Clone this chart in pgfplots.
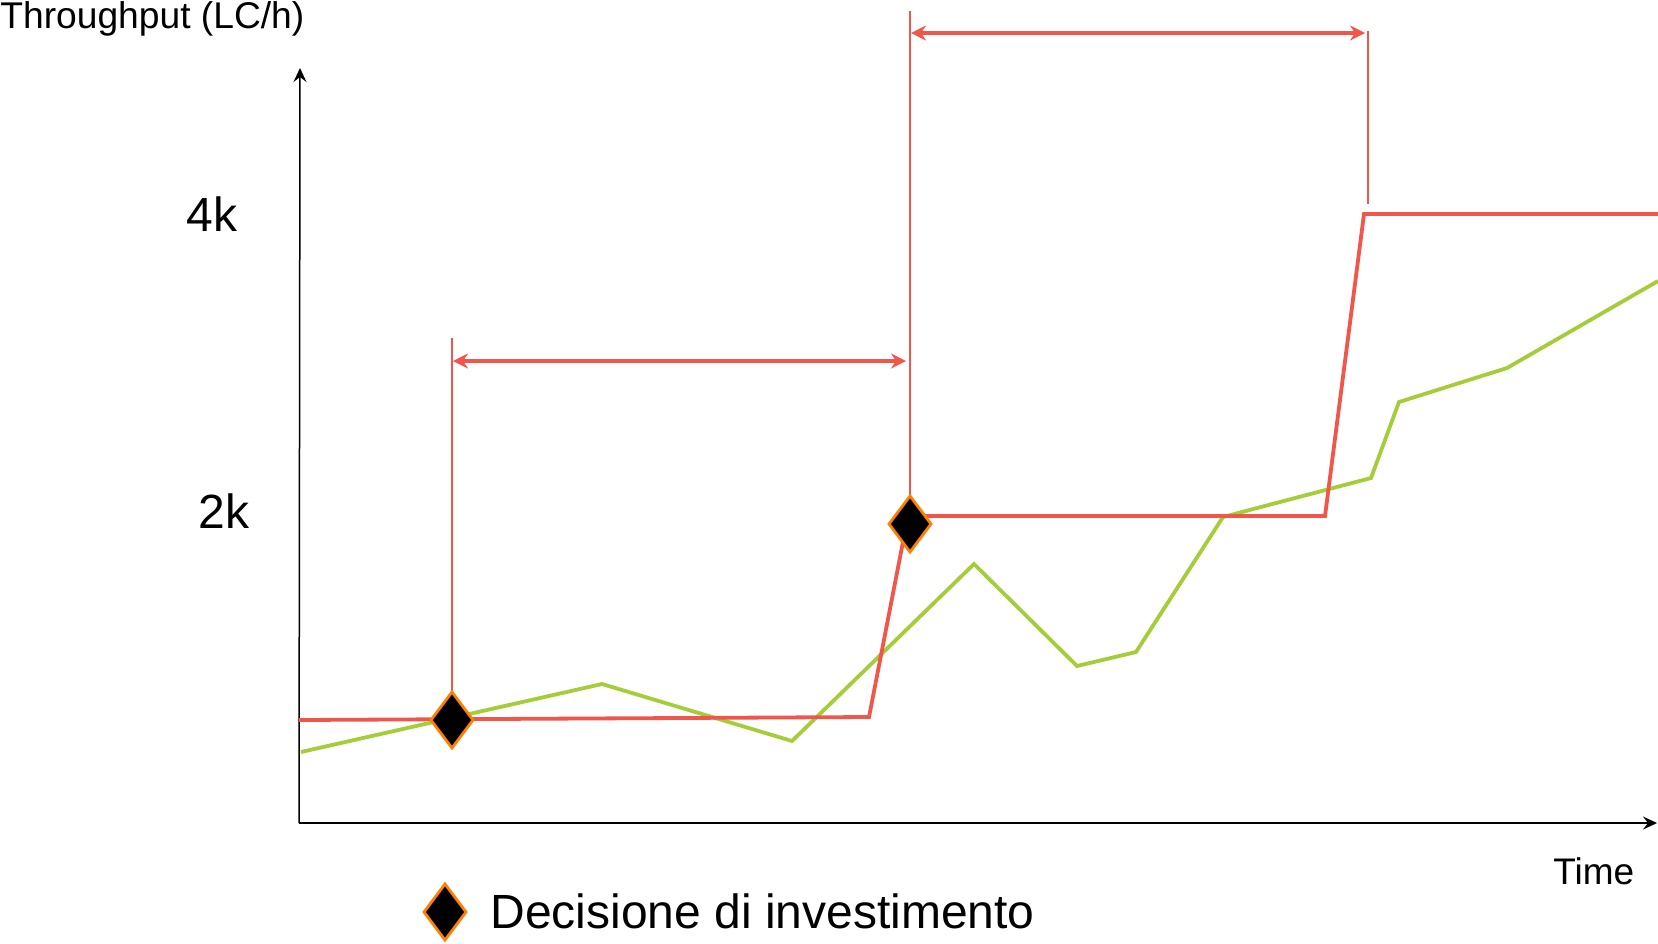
\documentclass[border=0pt]{standalone}
\usepackage{fontspec}
\setmainfont{Liberation Sans}
\usepackage{pgfplots}
\pgfplotsset{compat=1.18}
\usetikzlibrary{arrows.meta}
\definecolor{cred}{HTML}{F0564A}
\definecolor{cgreen}{HTML}{A5CD39}
\definecolor{corange}{HTML}{FF8000}
\begin{document}
\begin{tikzpicture}
\begin{axis}[
  scale only axis, width=829pt, height=471.5pt,
  xmin=0, xmax=1658, ymin=0, ymax=943, y dir=reverse,
  hide axis, clip=false,
]
% axes
\addplot[black, line width=0.75pt, -{Stealth[length=7pt,width=6.5pt,inset=2.5pt]}] coordinates {(299,823) (300,68)};
\addplot[black, line width=0.75pt, -{Stealth[length=7pt,width=6.5pt,inset=2.5pt]}] coordinates {(299,823) (1657,823)};
% demand (green)
\addplot[cgreen, line width=1.9pt] coordinates {
  (301,752) (602,684) (792,741) (974,564) (1077,666) (1136,652)
  (1223,517) (1371,478) (1399,402) (1507,368) (1658,281)};
% capacity (red)
\addplot[cred, line width=1.9pt] coordinates {
  (299,720) (869,717) (908,516) (1325,516) (1364,214) (1658,214)};
% vertical markers
\addplot[cred, line width=1.4pt] coordinates {(452,338) (452,691)};
\addplot[cred, line width=1.4pt] coordinates {(910,11) (910,495)};
\addplot[cred, line width=1.4pt] coordinates {(1368,31) (1368,204)};
% lead-time arrows
\addplot[cred, line width=1.6pt, {Stealth[length=7.5pt,width=7.5pt,inset=2.5pt]}-{Stealth[length=7.5pt,width=7.5pt,inset=2.5pt]}] coordinates {(453,361) (906,361)};
\addplot[cred, line width=1.6pt, {Stealth[length=7.5pt,width=7.5pt,inset=2.5pt]}-{Stealth[length=7.5pt,width=7.5pt,inset=2.5pt]}] coordinates {(911,33) (1365,33)};
% decision diamonds
\addplot[only marks, mark=diamond*, mark size=14pt, mark options={fill=black, draw=corange, line width=1.4pt}] coordinates {(452,720) (910,524) (445,912)};
% texts
\node[anchor=base west, inner sep=0pt, font=\fontsize{18.6}{20}\selectfont] at (axis cs:0,28) {Throughput (LC/h)};
\node[anchor=base west, inner sep=0pt, font=\fontsize{24}{26}\selectfont] at (axis cs:186,231) {4k};
\node[anchor=base west, inner sep=0pt, font=\fontsize{24}{26}\selectfont] at (axis cs:198,528) {2k};
\node[anchor=base west, inner sep=0pt, font=\fontsize{18.5}{20}\selectfont] at (axis cs:1553,884) {Time};
\node[anchor=base west, inner sep=0pt, font=\fontsize{24}{26}\selectfont] at (axis cs:490,928) {Decisione di investimento};
\end{axis}
\pgfresetboundingbox
\path (current axis.south west) rectangle (current axis.north east);
\end{tikzpicture}
\end{document}
